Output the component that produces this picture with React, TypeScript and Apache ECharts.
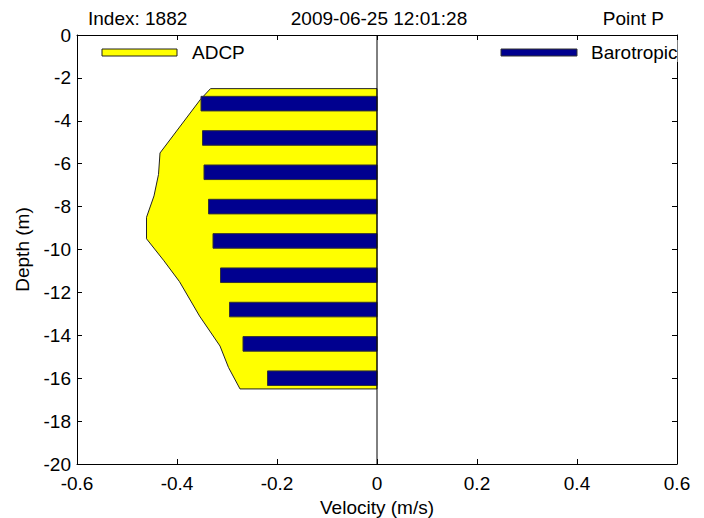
import React, { useEffect, useRef } from "react";
import * as echarts from "echarts";

// ADCP velocity profile outline (velocity m/s, depth m)
const adcpDepth = [-2.5, -3.0, -5.5, -6.5, -7.5, -8.5, -9.5, -10.5, -11.5, -13.1, -14.5, -15.5, -16.5];
const adcpVelocity = [-0.333, -0.353, -0.434, -0.437, -0.446, -0.461, -0.461, -0.427, -0.395, -0.355, -0.314, -0.297, -0.274];

// Barotropic bars
const barDepth = [-3.2, -4.8, -6.4, -8.0, -9.6, -11.2, -12.8, -14.4, -16.0];
const barVelocity = [-0.352, -0.349, -0.346, -0.337, -0.328, -0.313, -0.295, -0.268, -0.219];
const barThickness = 0.68;

// zero reference line
const zeroLineVelocity = [0, 0];
const zeroLineDepth = [0, -20];

const titleLeft = "Index: 1882";
const titleCenter = "2009-06-25 12:01:28";
const titleRight = "Point P";
const legendNames = ["ADCP", "Barotropic"];

const FONT = "'Liberation Sans', Arial, Helvetica, sans-serif";
const FS = 19;
const YELLOW = "#FFFF00";
const NAVY = "#00008F";

export default function App() {
  const ref = useRef<HTMLDivElement>(null);

  useEffect(() => {
    if (!ref.current) return;
    const chart = echarts.init(ref.current, null, { renderer: "svg" });

    const axisCommon = {
      axisLine: { show: true, onZero: false, lineStyle: { color: "#000", width: 1 } },
      axisTick: { show: true, inside: true, length: 5, lineStyle: { color: "#000" } },
      splitLine: { show: false },
    };

    const option: any = {
      animation: false,
      backgroundColor: "#fff",
      textStyle: { fontFamily: FONT },
      grid: { left: 77, top: 35, width: 600, height: 429, containLabel: false, outerBoundsMode: "none" },
      xAxis: [
        {
          type: "value",
          min: -0.6,
          max: 0.6,
          interval: 0.2,
          position: "bottom",
          ...axisCommon,
          axisLabel: { show: true, color: "#000", fontSize: FS, fontFamily: FONT, margin: 10 },
          name: "Velocity (m/s)",
          nameLocation: "middle",
          nameGap: 34,
          nameTextStyle: { color: "#000", fontSize: FS, fontFamily: FONT },
        },
        {
          type: "value",
          min: -0.6,
          max: 0.6,
          interval: 0.2,
          position: "top",
          ...axisCommon,
          axisLabel: { show: false },
        },
      ],
      yAxis: [
        {
          type: "value",
          min: -20,
          max: 0,
          interval: 2,
          position: "left",
          ...axisCommon,
          axisLabel: { show: true, color: "#000", fontSize: FS, fontFamily: FONT, margin: 6 },
          name: "Depth (m)",
          nameLocation: "middle",
          nameGap: 45,
          nameRotate: 90,
          nameTextStyle: { color: "#000", fontSize: FS, fontFamily: FONT },
        },
        {
          type: "value",
          min: -20,
          max: 0,
          interval: 2,
          position: "right",
          ...axisCommon,
          axisLabel: { show: false },
        },
      ],
      series: [
        {
          type: "custom",
          name: legendNames[0],
          xAxisIndex: 0,
          yAxisIndex: 0,
          z: 2,
          encode: { x: 0, y: 1 },
          data: adcpVelocity.map((v, i) => [v, adcpDepth[i]]),
          renderItem: (params: any, api: any) => {
            if (params.dataIndex !== 0) return null;
            const pts: number[][] = adcpVelocity.map((v, i) => api.coord([v, adcpDepth[i]]));
            pts.push(api.coord([0, adcpDepth[adcpDepth.length - 1]]));
            pts.push(api.coord([0, adcpDepth[0]]));
            return {
              type: "polygon",
              shape: { points: pts },
              style: { fill: YELLOW, stroke: "#222", lineWidth: 1 },
            };
          },
        },
        {
          type: "custom",
          name: legendNames[1],
          xAxisIndex: 0,
          yAxisIndex: 0,
          z: 3,
          encode: { x: 0, y: 1 },
          data: barVelocity.map((v, i) => [v, barDepth[i]]),
          renderItem: (params: any, api: any) => {
            const v = api.value(0);
            const d = api.value(1);
            const a = api.coord([0, d + barThickness / 2]);
            const b = api.coord([v, d - barThickness / 2]);
            return {
              type: "rect",
              shape: { x: b[0], y: a[1], width: a[0] - b[0], height: b[1] - a[1] },
              style: { fill: NAVY, stroke: "#333", lineWidth: 1 },
            };
          },
        },
        {
          type: "line",
          xAxisIndex: 0,
          yAxisIndex: 0,
          z: 4,
          symbol: "none",
          data: zeroLineVelocity.map((v, i) => [v, zeroLineDepth[i]]),
          lineStyle: { color: "#000", width: 1 },
        },
      ],
      graphic: [
        {
          type: "text",
          x: 88,
          y: 18,
          style: { text: titleLeft, font: `${FS}px ${FONT}`, fill: "#000", textAlign: "left", textVerticalAlign: "middle" },
        },
        {
          type: "text",
          x: 379,
          y: 18,
          style: { text: titleCenter, font: `${FS}px ${FONT}`, fill: "#000", textAlign: "center", textVerticalAlign: "middle" },
        },
        {
          type: "text",
          x: 664,
          y: 18,
          style: { text: titleRight, font: `${FS}px ${FONT}`, fill: "#000", textAlign: "right", textVerticalAlign: "middle" },
        },
        // legend ADCP
        { type: "rect", shape: { x: 102, y: 49, width: 75, height: 7 }, style: { fill: YELLOW, stroke: "#222", lineWidth: 1 }, z: 10 },
        {
          type: "text",
          x: 192,
          y: 52,
          z: 10,
          style: { text: legendNames[0], font: `${FS}px ${FONT}`, fill: "#000", textVerticalAlign: "middle" },
        },
        // legend Barotropic
        { type: "rect", shape: { x: 501, y: 49, width: 76, height: 7 }, style: { fill: NAVY, stroke: "#333", lineWidth: 1 }, z: 10 },
        {
          type: "text",
          x: 591,
          y: 52,
          z: 10,
          style: { text: legendNames[1], font: `${FS}px ${FONT}`, fill: "#000", textVerticalAlign: "middle" },
        },
        // clip the legend text at the right axis border
        { type: "rect", shape: { x: 677.5, y: 40, width: 30, height: 22 }, style: { fill: "#fff" }, z: 11 },
      ],
    };

    chart.setOption(option);
    return () => chart.dispose();
  }, []);

  return (
    <div
      ref={ref}
      style={{ position: "fixed", left: 0, top: 0, width: 704, height: 518, background: "#fff" }}
    />
  );
}
